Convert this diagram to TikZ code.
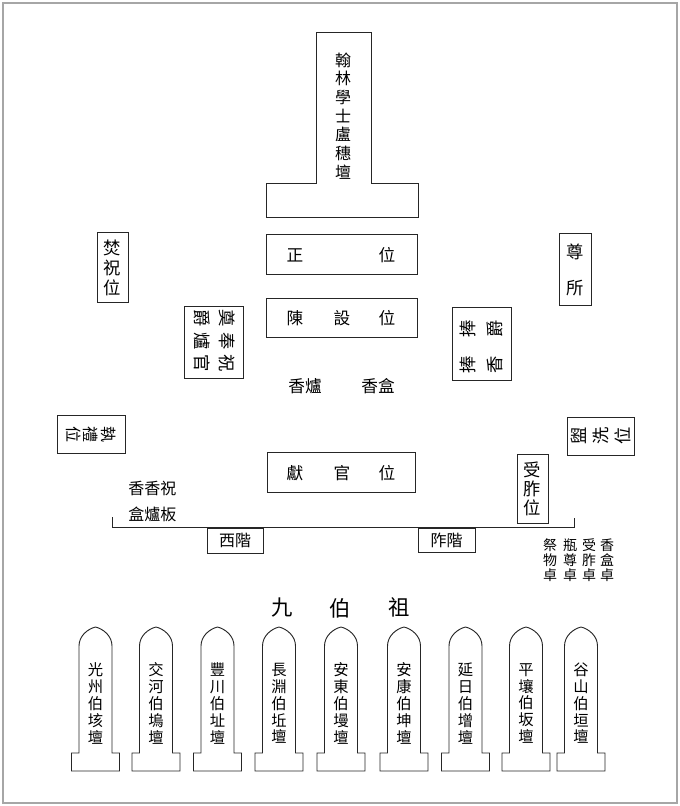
\documentclass[tikz,border=0pt]{standalone}
\usepackage{fontspec}
\newfontfamily\cjk{Noto Sans CJK TC}
\newcommand{\fz}[2]{\fontsize{#1}{#2}\selectfont}
\begin{document}
\begin{tikzpicture}[x=0.75pt,y=-0.75pt,
  outline/.style={draw=black!85,line width=0.7pt},
  lbl/.style={inner sep=0pt,align=center,font=\cjk\fz{12.5}{15}},
  small/.style={inner sep=0pt,align=center,font=\cjk\fz{10.5}{11.3}},
  stonetxt/.style={inner sep=0pt,align=center,font=\cjk\fz{11.5}{12.6}}]
\useasboundingbox (0,0) rectangle (680,806);
\draw[black!35,line width=0.8pt] (3,3) rectangle (677,803);

% main altar
\draw[outline] (316,32) -- (371,32) -- (371,183) -- (418,183) -- (418,217)
  -- (266,217) -- (266,183) -- (316,183) -- cycle;
\node[lbl,font=\cjk\fz{12}{14}] (altar) at (343,116) {翰\\林\\學\\士\\盧\\穗\\壇};

% 正位
\draw[outline] (266,234) rectangle (417,274);
\node[lbl] (zw1) at (295,255) {正};
\node[lbl] (zw2) at (387,255) {位};
% 陳設位
\draw[outline] (266,298) rectangle (417,337);
\node[lbl] (cs1) at (295,318) {陳};
\node[lbl] (cs2) at (342,318) {設};
\node[lbl] (cs3) at (387,318) {位};
% 香爐 香盒
\node[lbl] (xl) at (305,386) {香爐};
\node[lbl] (xh) at (378,386) {香盒};
% 獻官位
\draw[outline] (267,452) rectangle (415,492);
\node[lbl] (xg1) at (295,473) {獻};
\node[lbl] (xg2) at (342,473) {官};
\node[lbl] (xg3) at (387,473) {位};

% 焚祝位
\draw[outline] (97,232) rectangle (128,302);
\node[lbl,font=\cjk\fz{13}{15}] (fenzhu) at (112.5,268) {焚\\祝\\位};
% 奠奉祝 爵爐官
\draw[outline] (184,306) rectangle (243,378);
\node[lbl,font=\cjk\fz{13}{18.75},rotate=-90] (dianfeng) at (214.5,341)
  {奠\hspace{4pt}奉\hspace{4pt}祝\\爵\hspace{4pt}爐\hspace{4pt}官};
% 尊所
\draw[outline] (559,233) rectangle (591,305);
\node[lbl,font=\cjk\fz{13}{27}] (zunsuo) at (575,270) {尊\\所};
% 捧香 捧爵
\draw[outline] (452,307) rectangle (511,380);
\node[lbl,font=\cjk\fz{13}{20},rotate=90] (pengxiang) at (481.5,346.5)
  {捧\hspace{14pt}捧\\香\hspace{14pt}爵};
% 執禮位
\draw[outline] (57,415) rectangle (125,453);
\node[lbl,font=\cjk\fz{12}{13},rotate=-90] (zhili) at (91,434) {執\\禮\\位};
% 盥洗位
\draw[outline] (567,417) rectangle (634,455);
\node[lbl,font=\cjk\fz{13}{16.5},rotate=90] (guanxi) at (600.5,436) {盥\\洗\\位};
% 受胙位
\draw[outline] (517,454) rectangle (548,523);
\node[lbl,font=\cjk\fz{13}{14.5}] (shouzuo) at (532.5,489) {受\\胙\\位};

% 香香祝 盒爐板
\node[lbl,align=left,anchor=west,font=\cjk\fz{12}{20}] (xxz) at (128,501.5) {香香祝\\盒爐板};

% terrace line
\coordinate (tl) at (112,517);
\coordinate (tr) at (574,518);
\draw[outline] (tl) -- (112,527.5) -- (574,527.5) -- (tr);

% stairs
\draw[outline] (207,528) rectangle (263,553);
\node[lbl,font=\cjk\fz{12}{14}] (xijie) at (235,540.5) {西階};
\draw[outline] (418,528) rectangle (475,552);
\node[lbl,font=\cjk\fz{12}{14}] (zuojie) at (446.5,540) {阼階};

% tables
\node[small] (t1) at (550,560) {祭\\物\\卓};
\node[small] (t2) at (570,560) {瓶\\尊\\卓};
\node[small] (t3) at (589,560) {受\\胙\\卓};
\node[small] (t4) at (607,560) {香\\盒\\卓};

% 九伯祖
\node[lbl,font=\cjk\fz{16}{18}] (jiu) at (282,608) {九};
\node[lbl,font=\cjk\fz{16}{18}] (bo) at (340,608) {伯};
\node[lbl,font=\cjk\fz{16}{18}] (zu) at (399,607) {祖};

% tombstones
\foreach \c/\t [count=\i] in {
  95.5/{光\\州\\伯\\垓\\壇},
  156/{交\\河\\伯\\塢\\壇},
  217.5/{豐\\川\\伯\\址\\壇},
  279/{長\\淵\\伯\\坵\\壇},
  341/{安\\東\\伯\\墁\\壇},
  404/{安\\康\\伯\\坤\\壇},
  465.5/{延\\日\\伯\\增\\壇},
  526/{平\\壤\\伯\\坂\\壇},
  581/{谷\\山\\伯\\垣\\壇}} {
  \begin{scope}[shift={(\c,0)}]
    \draw[outline] (-24,753) -- (-16.5,753) -- (-16.5,646)
      .. controls (-16.5,636) and (-8,629) .. (0,627)
      .. controls (8,629) and (16.5,636) .. (16.5,646)
      -- (16.5,753) -- (24,753) -- (24,771) -- (-24,771) -- cycle;
    \node[stonetxt] (stone\i) at (0,703.5) {\t};
  \end{scope}
}
\end{tikzpicture}
\end{document}
